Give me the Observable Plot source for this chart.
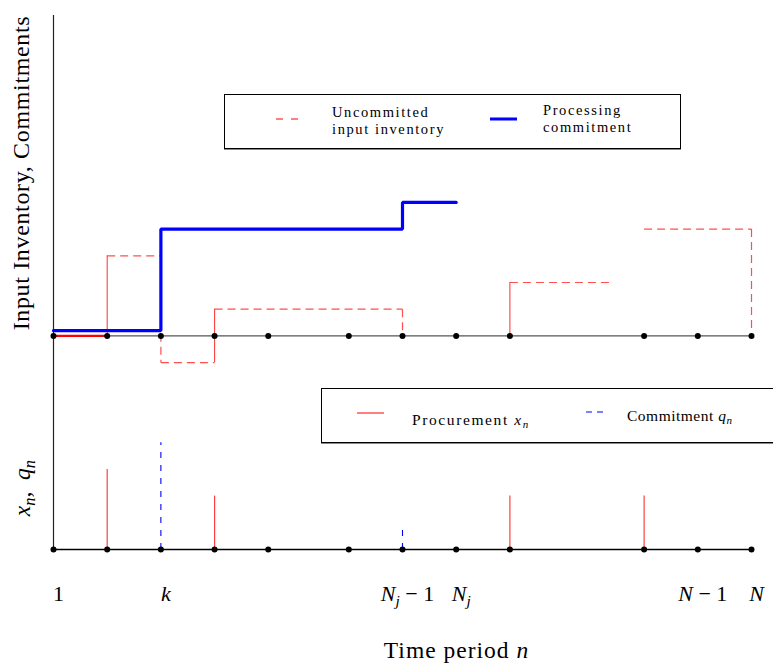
<!DOCTYPE html>
<html><head><meta charset="utf-8">
<script src="https://cdn.jsdelivr.net/npm/d3@7"></script>
<script src="https://cdn.jsdelivr.net/npm/@observablehq/plot@0.6"></script>
<style>
body{margin:0;background:#fff;}
#wrap{position:relative;width:773px;height:667px;overflow:hidden;font-family:"Liberation Serif",serif;color:#000;}
.box{position:absolute;border:1px solid #000;box-shadow:0 1px 0 #888;background:#fff;box-sizing:border-box;}
.lt{position:absolute;font-size:15.5px;line-height:14.5px;white-space:nowrap;}
.lt sub{font-size:11px;font-style:italic;vertical-align:-3px;line-height:0;}
.sw{position:absolute;overflow:visible;}
</style></head><body><div id="wrap"></div>
<script>
// time periods (abstract positions on the time axis)
const periods = [0, 1, 2, 3, 4, 5.5, 6.5, 7.5, 8.5, 11, 12, 13];
const tickPos = [0, 2, 6.5, 7.5, 12, 13];
const tickLabels = ["1", "$k$", "$N_j - 1$", "$N_j$", "$N - 1$", "$N$"];

// upper panel: processing commitment (step vertices)
const commitX = [0, 2, 2, 6.5, 6.5, 7.5];
const commitY = [0.2, 0.2, 4, 4, 5, 5];

// upper panel: uncommitted input inventory, dashed segments
const invX1 = [1, 2, 2, 3, 6.5, 8.5, 11, 13];
const invY1 = [3, 3, -1, 1, 1, 2, 4, 4];
const invX2 = [2, 2, 3, 6.5, 6.5, 10.4, 13, 13];
const invY2 = [3, -1, -1, 1, 0, 2, 4, 0];

// upper panel: inventory jumps from procurement (solid)
const jumpX = [1, 3, 8.5];
const jumpFrom = [0, -1, 0];
const jumpTo = [3, 1, 2];
// initial inventory level
const initX = [0, 1];
const initY = [0, 0];

// lower panel: procurement x_n and commitment q_n
const procX = [1, 3, 8.5, 11];
const procQty = [3, 2, 2, 2];
const comX = [2, 6.5];
const comQty = [4, 0.75];

const TOP = 8; // baseline of upper panel in y units

const invSegs = invX1.map((x, i) => ({x1: x, y1: invY1[i] + TOP, x2: invX2[i], y2: invY2[i] + TOP}));
const jumps = jumpX.map((x, i) => ({x, y1: jumpFrom[i] + TOP, y2: jumpTo[i] + TOP}));
const commit = commitX.map((x, i) => ({x, y: commitY[i] + TOP}));
const init = initX.map((x, i) => ({x, y: initY[i] + TOP}));
const proc = procX.map((x, i) => ({x, y: procQty[i]}));
const com = comX.map((x, i) => ({x, y: comQty[i]}));

const svg = Plot.plot({
  width: 773, height: 667,
  marginLeft: 53, marginRight: 22, marginTop: 15, marginBottom: 118,
  style: {fontFamily: "Liberation Serif, serif", background: "white", overflow: "visible"},
  x: {domain: [0, 13]},
  y: {domain: [0, 20], axis: null},
  marks: [
    Plot.ruleX([0], {y1: 0, y2: 20, stroke: "#222", strokeWidth: 1.2}),
    Plot.ruleY([TOP], {x1: 0, x2: 13, stroke: "#555", strokeWidth: 1.4}),
    Plot.ruleY([0], {x1: 0, x2: 13, stroke: "black", strokeWidth: 1.3}),
    Plot.link(invSegs, {x1: "x1", y1: "y1", x2: "x2", y2: "y2", stroke: "#ff3030", strokeWidth: 1.2, strokeDasharray: "8,5", strokeOpacity: 0.85}),
    Plot.ruleX(jumps, {x: "x", y1: "y1", y2: "y2", stroke: "#ff4040", strokeWidth: 1.1}),
    Plot.line(init, {x: "x", y: "y", stroke: "red", strokeWidth: 2.2}),
    Plot.line(commit, {x: "x", y: "y", stroke: "blue", strokeWidth: 3.2, strokeLinejoin: "miter"}),
    Plot.ruleX(proc, {x: "x", y1: 0, y2: "y", stroke: "#ff4040", strokeWidth: 1.2}),
    Plot.ruleX(com, {x: "x", y1: 0, y2: "y", stroke: "blue", strokeWidth: 1.1, strokeDasharray: "6,7"}),
    Plot.dot(periods, {x: d => d, y: TOP, r: 3, fill: "black", stroke: "none"}),
    Plot.dot(periods, {x: d => d, y: 0, r: 3, fill: "black", stroke: "none"}),
    Plot.axisX(tickPos, {tickSize: 0, tickPadding: 36, fontSize: 22, dx: 5, tickFormat: d => tickLabels[tickPos.indexOf(d)], label: null}),
    Plot.text(["Time period $n$"], {frameAnchor: "bottom", dx: 54, dy: 108, fontSize: 23.5}),
    Plot.text(["Input Inventory, Commitments"], {frameAnchor: "left", textAnchor: "middle", y: 14.1, dx: -32, rotate: -90, fontSize: 24}),
    Plot.text(["$x_n$,  $q_n$"], {frameAnchor: "left", textAnchor: "middle", y: 2.3, dx: -31, rotate: -90, fontSize: 23.5})
  ]
});

const NS = "http://www.w3.org/2000/svg";
function renderMath(el, s) {
  el.textContent = "";
  let shift = 0;
  const add = (txt, opts = {}) => {
    const t = document.createElementNS(NS, "tspan");
    t.textContent = txt;
    if (opts.italic) t.setAttribute("font-style", "italic");
    if (opts.sub) {
      t.setAttribute("font-size", "0.7em");
      t.setAttribute("dy", "0.3em");
      shift = 0.21;
    } else if (shift) {
      t.setAttribute("dy", (-shift) + "em");
      shift = 0;
    }
    el.appendChild(t);
  };
  s.split("$").forEach((p, i) => {
    if (i % 2 === 0) { if (p) add(p.replace(/ /g, "\u00a0")); return; }
    for (let j = 0; j < p.length; j++) {
      const c = p[j];
      if (c === "_") { add(p[j + 1], {italic: true, sub: true}); j++; }
      else if (c === "-") add("\u2005\u2212\u2005");
      else if (c === " ") continue;
      else if (/[A-Za-z]/.test(c)) add(c, {italic: true});
      else add(c);
    }
  });
}
svg.querySelectorAll("text").forEach(t => {
  const s = t.textContent;
  if (s === "Input Inventory, Commitments") t.style.letterSpacing = "0.65px";
  if (s.startsWith("Time period")) t.style.letterSpacing = "1px";
  if (s.includes("$")) renderMath(t, s);
});

const wrap = document.getElementById("wrap");
wrap.appendChild(svg);
svg.style.position = "absolute"; svg.style.left = "0"; svg.style.top = "0";

const legendHTML = `
<div class="box" style="left:224px;top:94px;width:457px;height:55px"></div>
<svg class="sw" style="left:0;top:0" width="773" height="667">
  <line x1="276" y1="119" x2="298" y2="119" stroke="red" stroke-width="1" stroke-dasharray="7,8"/>
  <line x1="490" y1="119" x2="517" y2="119" stroke="blue" stroke-width="3"/>
</svg>
<div class="lt" style="left:332px;top:104.4px;font-size:14.5px;line-height:16.2px;letter-spacing:1.6px">Uncommitted<br>input inventory</div>
<div class="lt" style="left:543px;top:102.4px;font-size:14.5px;line-height:16.2px;letter-spacing:1.6px">Processing<br>commitment</div>
<div class="box" style="left:321px;top:388px;width:480px;height:55px"></div>
<svg class="sw" style="left:0;top:0" width="773" height="667">
  <line x1="357" y1="413" x2="384" y2="413" stroke="red" stroke-width="1"/>
  <line x1="586" y1="412" x2="603" y2="412" stroke="blue" stroke-width="1" stroke-dasharray="6,5"/>
</svg>
<div class="lt" style="left:412px;top:412.5px;letter-spacing:1.6px">Procurement <i>x</i><sub>n</sub></div>
<div class="lt" style="left:627px;top:408.5px;letter-spacing:0.5px">Commitment <i>q</i><sub>n</sub></div>
`;
const tmp = document.createElement("div");
tmp.innerHTML = legendHTML;
[...tmp.children].forEach(c => wrap.appendChild(c));
</script>
</body></html>
